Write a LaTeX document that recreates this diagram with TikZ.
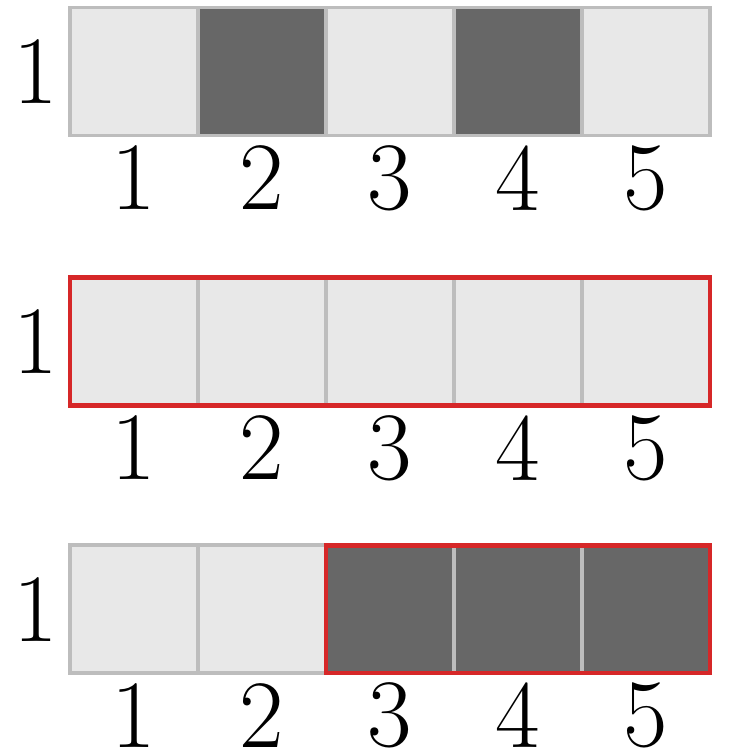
\documentclass[tikz,border=0pt]{standalone}
\usepackage{tikz}
\usetikzlibrary{positioning}

\definecolor{cellgray}{HTML}{E8E8E8}
\definecolor{celldark}{HTML}{676767}
\definecolor{cellline}{HTML}{BDBDBD}
\definecolor{selred}{HTML}{D62728}

\tikzset{
    cell/.style={draw=cellline,fill=cellgray,line width=0.8pt,minimum width=1cm,minimum height=1cm,inner sep=0pt,outer sep=0pt},
    darkcell/.style={cell,fill=celldark},
    num/.style={font=\fontsize{21.5}{25}\selectfont,inner sep=0pt},
    selbox/.style={draw=selred,line width=1pt}
}

\begin{document}
\begin{tikzpicture}
    \useasboundingbox (-0.547,0) rectangle (5.3125,-5.859);

    % row a: 2 and 4 dark
    \foreach \i in {1,...,5}{
        \ifodd\i
            \node[cell] (a\i) at (\i-0.5,-0.56) {};
        \else
            \node[darkcell] (a\i) at (\i-0.5,-0.56) {};
        \fi
        \node[num] (an\i) at ([yshift=-0.83cm]a\i.center) {\i};
    }
    \node[num] (arow) at ([xshift=-0.27cm]a1.west) {1};

    % row b: all light, whole row selected
    \foreach \i in {1,...,5}{
        \node[cell] (b\i) at (\i-0.5,-2.67) {};
        \node[num] (bn\i) at ([yshift=-0.83cm]b\i.center) {\i};
    }
    \node[num] (brow) at ([xshift=-0.27cm]b1.west) {1};
    \draw[selbox] (b1.north west) rectangle (b5.south east);

    % row c: 3 to 5 dark and selected
    \foreach \i in {1,...,5}{
        \ifnum\i<3
            \node[cell] (c\i) at (\i-0.5,-4.76) {};
        \else
            \node[darkcell] (c\i) at (\i-0.5,-4.76) {};
        \fi
        \node[num] (cn\i) at ([yshift=-0.83cm]c\i.center) {\i};
    }
    \node[num] (crow) at ([xshift=-0.27cm]c1.west) {1};
    \draw[selbox] (c3.north west) rectangle (c5.south east);
\end{tikzpicture}
\end{document}
